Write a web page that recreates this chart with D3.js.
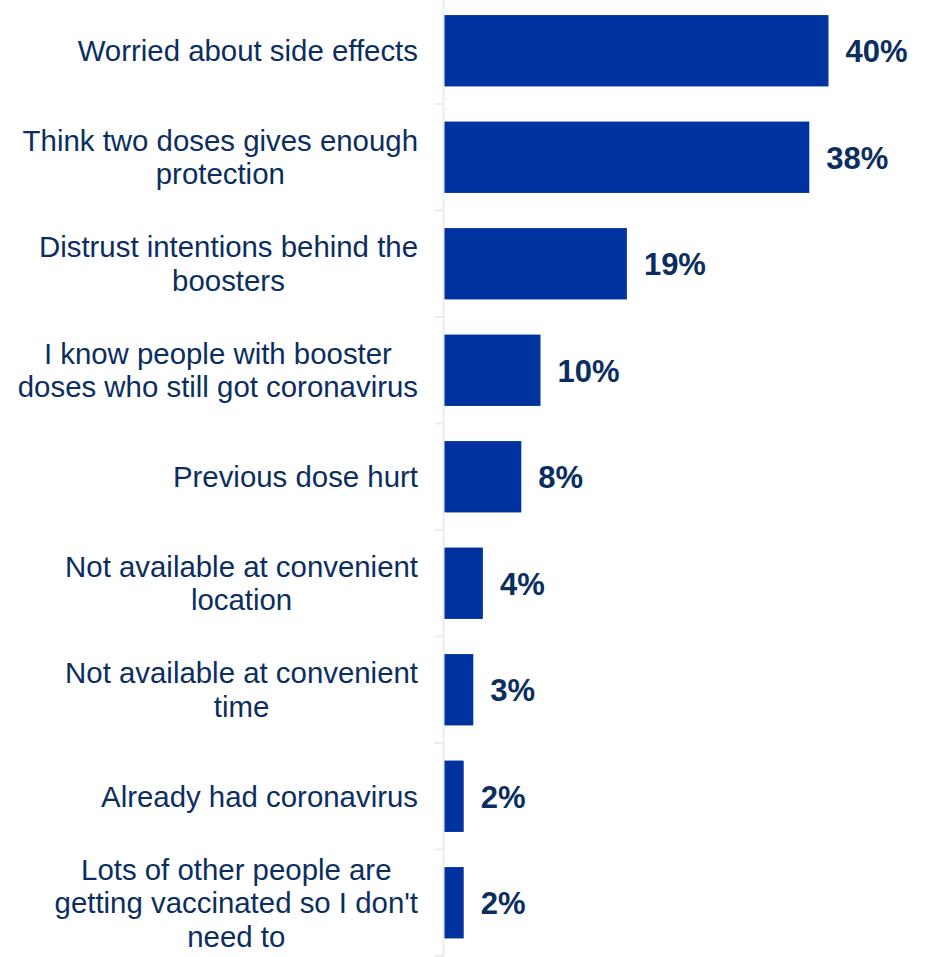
<!DOCTYPE html>
<html>
<head>
<meta charset="utf-8">
<script src="https://cdn.jsdelivr.net/npm/d3@7"></script>
<style>
  html, body { margin: 0; padding: 0; background: #ffffff; }
  svg { display: block; }
</style>
</head>
<body>
<svg id="chart" width="925" height="957"></svg>
<script>
// Reasons given for not taking a booster dose
const categories = [
  "Worried about side effects",
  "Think two doses gives enough protection",
  "Distrust intentions behind the boosters",
  "I know people with booster doses who still got coronavirus",
  "Previous dose hurt",
  "Not available at convenient location",
  "Not available at convenient time",
  "Already had coronavirus",
  "Lots of other people are getting vaccinated so I don't need to"
];
// Wrapped lines for each category label
const labelLines = [
  ["Worried about side effects"],
  ["Think two doses gives enough", "protection"],
  ["Distrust intentions behind the", "boosters"],
  ["I know people with booster", "doses who still got coronavirus"],
  ["Previous dose hurt"],
  ["Not available at convenient", "location"],
  ["Not available at convenient", "time"],
  ["Already had coronavirus"],
  ["Lots of other people are", "getting vaccinated so I don't", "need to"]
];
const values = [40, 38, 19, 10, 8, 4, 3, 2, 2];

const svg = d3.select("#chart");
const axisX = 444.5;
const labelRight = 418;
const barColor = "#0033a0";
const textColor = "#0b2e5f";

const y = d3.scaleBand()
  .domain(categories)
  .range([-2.5, 956])
  .paddingInner(0.33)
  .paddingOuter(0.165);

const x = d3.scaleLinear()
  .domain([0, 40])
  .range([axisX, 828.5]);

// Vertical axis line and category boundary ticks
svg.append("line")
  .attr("x1", axisX - 1).attr("x2", axisX - 1)
  .attr("y1", 0).attr("y2", 957)
  .attr("stroke", "#ececec").attr("stroke-width", 2);

const step = y.step();
const boundaries = d3.range(1, categories.length + 1).map(i => y.range()[0] + i * step);
svg.selectAll("line.tick")
  .data(boundaries)
  .join("line")
  .attr("class", "tick")
  .attr("x1", axisX - 10).attr("x2", axisX - 1)
  .attr("y1", d => d).attr("y2", d => d)
  .attr("stroke", "#ececec").attr("stroke-width", 2);

// Bars
svg.selectAll("rect.bar")
  .data(categories)
  .join("rect")
  .attr("class", "bar")
  .attr("x", x(0))
  .attr("y", d => y(d))
  .attr("width", (d, i) => x(values[i]) - x(0))
  .attr("height", y.bandwidth())
  .attr("fill", barColor);

// Value labels
svg.selectAll("text.value")
  .data(categories)
  .join("text")
  .attr("class", "value")
  .attr("x", (d, i) => x(values[i]) + 17)
  .attr("y", d => y(d) + y.bandwidth() / 2)
  .attr("dy", "0.37em")
  .attr("font-family", "Liberation Sans, Arial, sans-serif")
  .attr("font-size", 31)
  .attr("font-weight", "bold")
  .attr("fill", textColor)
  .text((d, i) => values[i] + "%");

// Category labels: centred line blocks, right-aligned against the axis
const lineHeight = 33.5;
categories.forEach((cat, i) => {
  const lines = labelLines[i];
  const g = svg.append("g");
  const cy = y(cat) + y.bandwidth() / 2;
  const texts = lines.map((ln, j) =>
    g.append("text")
      .attr("y", cy + (j - (lines.length - 1) / 2) * lineHeight)
      .attr("dy", "0.35em")
      .attr("text-anchor", "middle")
      .attr("font-family", "Liberation Sans, Arial, sans-serif")
      .attr("font-size", 29.4)
      .attr("fill", textColor)
      .text(ln)
  );
  const maxW = d3.max(texts, t => t.node().getComputedTextLength());
  texts.forEach(t => t.attr("x", labelRight - maxW / 2));
});
</script>
</body>
</html>
